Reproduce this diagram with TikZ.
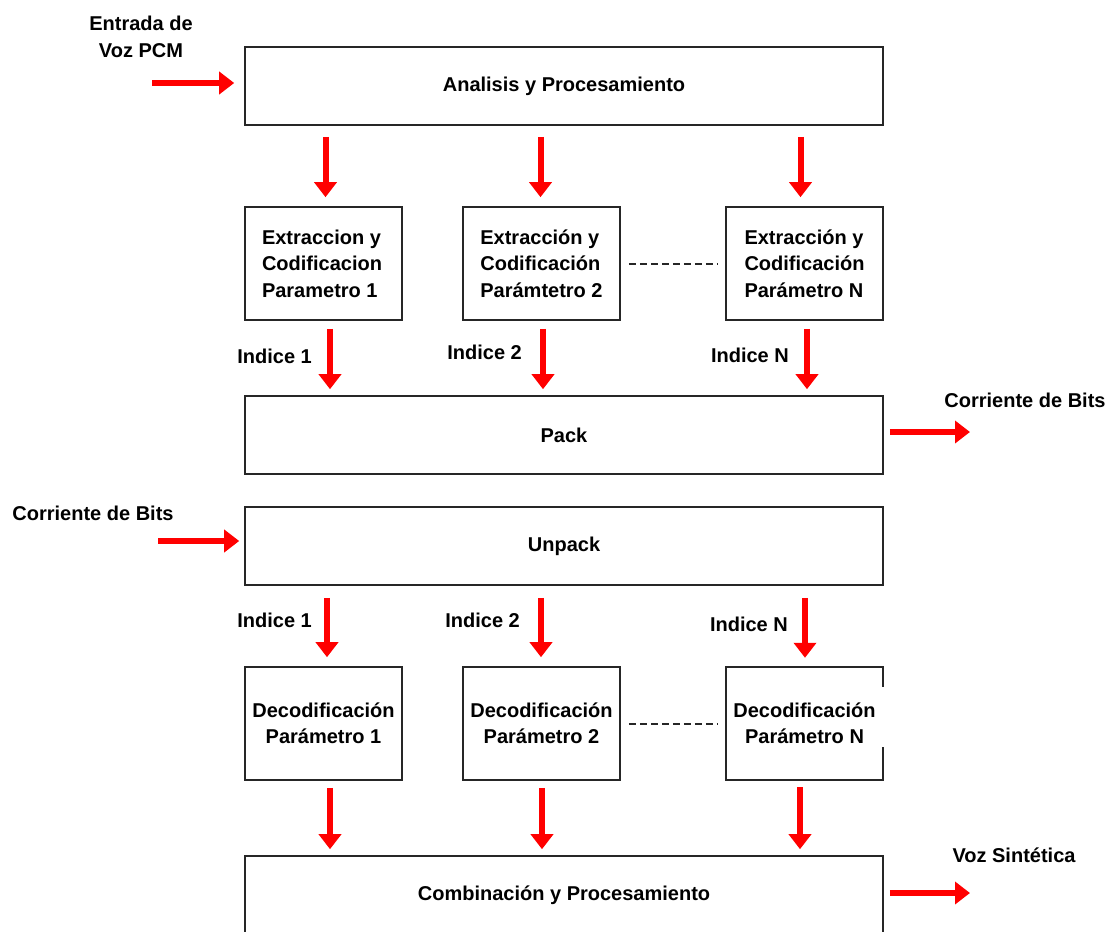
\documentclass[tikz,border=0pt]{standalone}
\usepackage{fontspec}
\setmainfont{Liberation Sans}
\usetikzlibrary{arrows.meta}
\begin{document}
\begin{tikzpicture}[x=1pt,y=-1pt,
  txt/.style={font=\bfseries\fontsize{20}{26.5}\selectfont,text=black,inner sep=0pt},
  boxline/.style={draw=black!85,line width=1.6pt},
  wide/.style={txt,boxline,minimum width=638pt,minimum height=78pt},
  small/.style={txt,boxline,minimum width=157pt,minimum height=113pt},
  arr/.style={draw=red,line width=6pt,-{Triangle[width=22pt,length=15pt]}},
  dots/.style={draw=black!85,line width=2pt,dash pattern=on 7pt off 4pt}]
\useasboundingbox (0,0) rectangle (1109,932);
\clip (0,0) rectangle (1109,932);

% encoder
\node[wide] (A) at (564,86) {Analisis y Procesamiento};
\node[small,align=left] (e1) at (323.5,263.5) {\raisebox{-4pt}{\parbox{123pt}{Extraccion y\\Codificacion\\Parametro 1}}};
\node[small,align=left] (e2) at (541.5,263.5) {Extracción y\\Codificación\\Parámtetro 2};
\node[small,align=left] (e3) at (804.5,263.5) {Extracción y\\Codificación\\Parámetro N};
\node[wide] (P) at (564,435) {Pack};

% decoder
\node[wide] (U) at (564,546) {Unpack};
\node[small,align=center] (d1) at (323.5,723.5) {Decodificación\\Parámetro 1};
\node[small,align=center] (d2) at (541.5,723.5) {Decodificación\\Parámetro 2};
\node[txt,align=center,minimum width=157pt,minimum height=113pt] (d3) at (804.5,723.5) {Decodificación\\Parámetro N};
\draw[boxline] ([yshift=-20pt]d3.north east) -- (d3.north east) -- (d3.north west)
  -- (d3.south west) -- (d3.south east) -- ([yshift=33pt]d3.south east);
\node[wide] (C) at (564,895) {Combinación y Procesamiento};

% outside labels
\node[txt,align=center] (lin) at (141,37) {Entrada de\\Voz PCM};
\node[txt] (lout) at (1025,400) {Corriente de Bits};
\node[txt] (lbin) at (93,513) {Corriente de Bits};
\node[txt] (lvoz) at (1014,855) {Voz Sintética};

\coordinate (inA) at (152,83);
\coordinate (outP) at (970,432);
\coordinate (inU) at (158,541);
\coordinate (outC) at (970,893);

% main flow arrows
\draw[arr,shorten >=10pt] (inA) -- (inA -| A.west);
\draw[arr,shorten <=6pt] (P.east |- outP) -- (outP);
\draw[arr,shorten >=5pt] (inU) -- (inU -| U.west);
\draw[arr,shorten <=6pt] (C.east |- outC) -- (outC);

% analysis -> extraction
\draw[arr,shorten <=11pt,shorten >=9pt] ([xshift=2pt]e1.north |- A.south) -- ([xshift=2pt]e1.north);
\draw[arr,shorten <=11pt,shorten >=9pt] ([xshift=-1pt]e2.north |- A.south) -- ([xshift=-1pt]e2.north);
\draw[arr,shorten <=11pt,shorten >=9pt] ([xshift=-4pt]e3.north |- A.south) -- ([xshift=-4pt]e3.north);

% extraction -> pack
\draw[arr,shorten <=8pt,shorten >=6pt] ([xshift=6.5pt]e1.south) -- ([xshift=6.5pt]e1.south |- P.north);
\draw[arr,shorten <=8pt,shorten >=6pt] ([xshift=1.5pt]e2.south) -- ([xshift=1.5pt]e2.south |- P.north);
\draw[arr,shorten <=8pt,shorten >=6pt] ([xshift=2.5pt]e3.south) -- ([xshift=2.5pt]e3.south |- P.north);

% unpack -> decoding
\draw[arr,shorten <=12pt,shorten >=9pt] ([xshift=3.5pt]d1.north |- U.south) -- ([xshift=3.5pt]d1.north);
\draw[arr,shorten <=12pt,shorten >=9pt] ([xshift=-0.5pt]d2.north |- U.south) -- ([xshift=-0.5pt]d2.north);
\draw[arr,shorten <=12pt,shorten >=9pt] ([xshift=0.5pt]d3.north |- U.south) -- ([xshift=0.5pt]d3.north);

% decoding -> combination
\draw[arr,shorten <=7pt,shorten >=6pt] ([xshift=6.5pt]d1.south) -- ([xshift=6.5pt]d1.south |- C.north);
\draw[arr,shorten <=7pt,shorten >=6pt] ([xshift=0.5pt]d2.south) -- ([xshift=0.5pt]d2.south |- C.north);
\draw[arr,shorten <=7pt,shorten >=6pt] ([xshift=-4.5pt]d3.south) -- ([xshift=-4.5pt]d3.south |- C.north);

% index labels
\node[txt,anchor=east] (i1) at (312,356) {Indice 1};
\node[txt,anchor=east] (i2) at (522,352) {Indice 2};
\node[txt,anchor=east] (iN) at (789,355) {Indice N};
\node[txt,anchor=east] (j1) at (312,620) {Indice 1};
\node[txt,anchor=east] (j2) at (520,620) {Indice 2};
\node[txt,anchor=east] (jN) at (788,624) {Indice N};

% dashed links between parameter blocks
\draw[dots,shorten <=8pt,shorten >=8pt] (e2.east) -- (e3.west);
\draw[dots,shorten <=8pt,shorten >=8pt] (d2.east) -- (d3.west);
\end{tikzpicture}
\end{document}
